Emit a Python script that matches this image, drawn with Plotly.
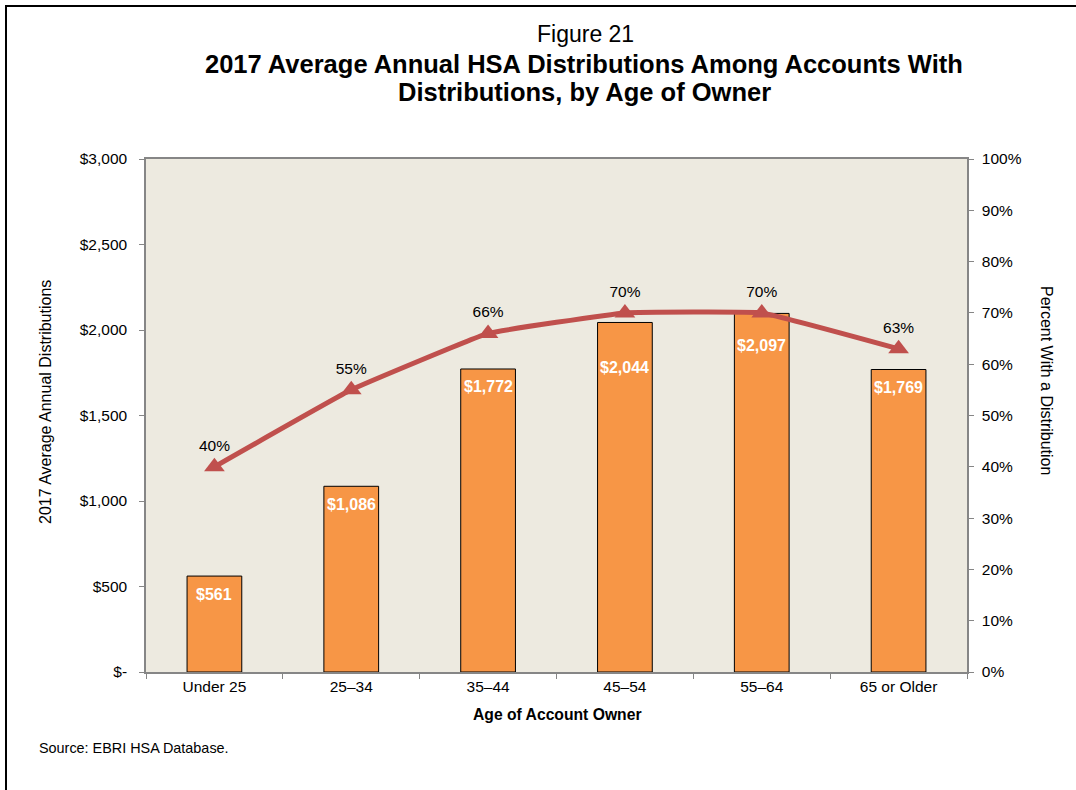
import plotly.graph_objects as go

# Age groups and values
age_groups = ["Under 25", "25–34", "35–44", "45–54", "55–64", "65 or Older"]
avg_distributions = [561, 1086, 1772, 2044, 2097, 1769]
pct_with_distribution = [40, 55, 66, 70, 70, 63]

left_tick_vals = [0, 500, 1000, 1500, 2000, 2500, 3000]
left_tick_text = ["$-", "$500", "$1,000", "$1,500", "$2,000", "$2,500", "$3,000"]
right_tick_vals = [0, 10, 20, 30, 40, 50, 60, 70, 80, 90, 100]
right_tick_text = [f"{v}%" for v in right_tick_vals]

# downward nudge (px) of each bar's value label below the bar top
label_drop = [8, 8, 7, 35, 22, 7]

FONT = "Liberation Sans, Arial, sans-serif"
AXIS_GRAY = "#868686"

fig = go.Figure()

fig.add_trace(go.Bar(
    x=age_groups,
    y=avg_distributions,
    width=0.40,
    marker=dict(color="#F79646", line=dict(color="#000000", width=1)),
    hoverinfo="skip",
))

fig.add_trace(go.Scatter(
    x=age_groups,
    y=pct_with_distribution,
    yaxis="y2",
    mode="lines+markers+text",
    line=dict(color="#C0504D", width=5, shape="spline", smoothing=0.25),
    marker=dict(symbol="triangle-up", size=18, color="#C0504D"),
    text=[f"{v}%" for v in pct_with_distribution],
    textposition="top center",
    textfont=dict(family=FONT, size=15.5, color="#000000"),
    hoverinfo="skip",
    cliponaxis=False,
))

W, H = 1076, 790
L, R, T, B = 146, 967, 159, 672


def px_x(p):
    return (p - L) / (R - L)


def px_y(p):
    return (B - p) / (B - T)


annotations = []
for cat, val, drop in zip(age_groups, avg_distributions, label_drop):
    annotations.append(dict(
        x=cat, y=val, xref="x", yref="y",
        text=f"<b>${val:,}</b>", showarrow=False,
        xanchor="center", yanchor="top", yshift=-drop,
        font=dict(family=FONT, size=16, color="white"),
    ))

annotations += [
    dict(
        text="Figure 21", xref="paper", yref="paper",
        x=px_x(585), y=px_y(34), xanchor="center", yanchor="middle",
        showarrow=False, font=dict(size=23),
    ),
    dict(
        text="<b>2017 Average Annual HSA Distributions Among Accounts With</b>",
        xref="paper", yref="paper",
        x=px_x(584), y=px_y(64), xanchor="center", yanchor="middle",
        showarrow=False, font=dict(size=25.5),
    ),
    dict(
        text="<b>Distributions, by Age of Owner</b>",
        xref="paper", yref="paper",
        x=px_x(584), y=px_y(92), xanchor="center", yanchor="middle",
        showarrow=False, font=dict(size=25.5),
    ),
    dict(
        text="2017 Average Annual Distributions", xref="paper", yref="paper",
        x=px_x(45), y=px_y(402), xanchor="center", yanchor="middle",
        showarrow=False, textangle=-90, font=dict(size=16),
    ),
    dict(
        text="Percent With a Distribution", xref="paper", yref="paper",
        x=px_x(1047), y=px_y(380), xanchor="center", yanchor="middle",
        showarrow=False, textangle=90, font=dict(size=16),
    ),
    dict(
        text="<b>Age of Account Owner</b>", xref="paper", yref="paper",
        x=px_x(557), y=px_y(714), xanchor="center", yanchor="middle",
        showarrow=False, font=dict(size=15.7),
    ),
    dict(
        text="Source: EBRI HSA Database.", xref="paper", yref="paper",
        x=px_x(37), y=px_y(748), xanchor="left", yanchor="middle",
        showarrow=False, font=dict(size=14.4),
    ),
]

fig.update_layout(
    width=W,
    height=H,
    margin=dict(l=L, r=W - R, t=T, b=H - B, autoexpand=False),
    paper_bgcolor="white",
    plot_bgcolor="#EDEAE0",
    showlegend=False,
    font=dict(family=FONT, size=15.5, color="#000000"),
    xaxis=dict(
        type="category",
        showline=True,
        linecolor=AXIS_GRAY,
        linewidth=1.5,
        mirror=True,
        ticks="outside",
        tickson="boundaries",
        ticklen=5,
        tickcolor=AXIS_GRAY,
        showgrid=False,
        tickfont=dict(size=15.5),
    ),
    yaxis=dict(
        range=[0, 3000],
        tickvals=left_tick_vals,
        ticktext=left_tick_text,
        showline=True,
        linecolor=AXIS_GRAY,
        linewidth=1.5,
        ticks="outside",
        ticklen=5,
        tickcolor=AXIS_GRAY,
        showgrid=False,
        zeroline=False,
        tickfont=dict(size=15.5),
        ticklabelstandoff=9,
    ),
    yaxis2=dict(
        range=[0, 100],
        tickvals=right_tick_vals,
        ticktext=right_tick_text,
        overlaying="y",
        side="right",
        showline=True,
        linecolor=AXIS_GRAY,
        linewidth=1.5,
        ticks="outside",
        ticklen=5,
        tickcolor=AXIS_GRAY,
        showgrid=False,
        zeroline=False,
        tickfont=dict(size=15.5),
        ticklabelstandoff=5,
    ),
    shapes=[
        dict(
            type="rect", xref="paper", yref="paper",
            x0=px_x(6), x1=px_x(W + 10), y0=px_y(H + 10), y1=px_y(6),
            line=dict(color="#000000", width=2), fillcolor="rgba(0,0,0,0)",
            layer="above",
        )
    ],
    annotations=annotations,
)

fig.write_html("out.html")
